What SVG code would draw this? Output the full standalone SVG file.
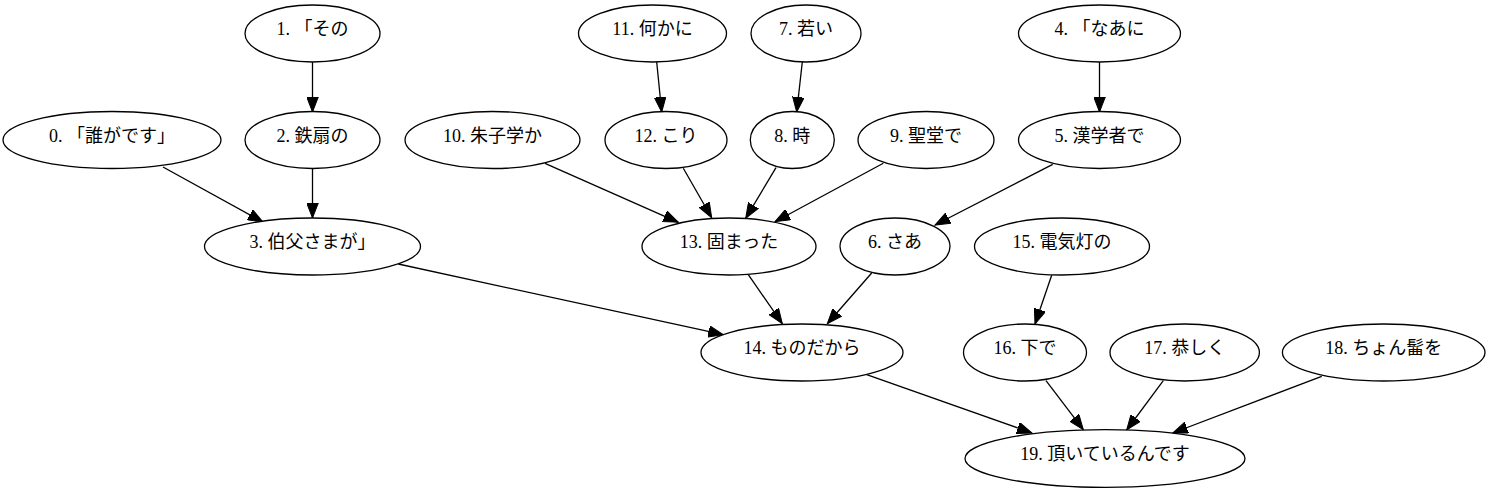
<svg xmlns="http://www.w3.org/2000/svg" width="1490" height="493" viewBox="0 0 1490 493">
<style>
.n ellipse{fill:#fff;stroke:#000;stroke-width:1.3}
.n text{font-family:"Liberation Serif","Noto Sans CJK JP",serif;font-size:18px;text-anchor:middle;fill:#000}
.e line{stroke:#000;stroke-width:1.3;marker-end:url(#ah)}
</style>
<defs>
<marker id="ah" markerUnits="userSpaceOnUse" markerWidth="16" markerHeight="12" refX="15" refY="6" orient="auto">
<path d="M0,0.2 L15,6 L0,11.8 Z" fill="#000" stroke="#000" stroke-width="1"/>
</marker>
</defs>
<rect width="1490" height="493" fill="#fff"/>
<g id="edges" class="e">
<line x1="312.5" y1="62" x2="312.5" y2="112"/>
<line x1="163" y1="167" x2="263" y2="222"/>
<line x1="312.5" y1="169" x2="312.5" y2="218"/>
<line x1="656.7" y1="62" x2="661.7" y2="112"/>
<line x1="802.3" y1="62" x2="796.7" y2="112"/>
<line x1="545" y1="163.3" x2="678.3" y2="222.3"/>
<line x1="683.3" y1="168.3" x2="711.7" y2="217.7"/>
<line x1="776" y1="167.7" x2="745.7" y2="218.3"/>
<line x1="883.3" y1="163.3" x2="775" y2="221.7"/>
<line x1="1099.5" y1="62" x2="1099.5" y2="112"/>
<line x1="1052.7" y1="164.3" x2="935" y2="225"/>
<line x1="398.3" y1="264" x2="723.3" y2="334.7"/>
<line x1="748.3" y1="274.7" x2="782.3" y2="323.7"/>
<line x1="871.7" y1="273" x2="827.3" y2="323.7"/>
<line x1="1051.7" y1="275.3" x2="1035" y2="324"/>
<line x1="866.7" y1="374.7" x2="1032" y2="433"/>
<line x1="1046" y1="380.7" x2="1083.3" y2="429.7"/>
<line x1="1163.3" y1="380.7" x2="1126.7" y2="430"/>
<line x1="1321.7" y1="376.3" x2="1172.7" y2="433"/>
</g>
<g id="node0" class="n"><ellipse cx="112" cy="140" rx="109" ry="28.5"/><text x="112" y="141.5">0. 「誰がです」</text></g>
<g id="node1" class="n"><ellipse cx="312.5" cy="33.5" rx="67.5" ry="28.5"/><text x="312.5" y="35">1. 「その</text></g>
<g id="node2" class="n"><ellipse cx="312.5" cy="140" rx="67.5" ry="28.5"/><text x="312.5" y="141.5">2. 鉄扇の</text></g>
<g id="node3" class="n"><ellipse cx="312.5" cy="246.5" rx="108" ry="28.5"/><text x="312.5" y="248">3. 伯父さまが」</text></g>
<g id="node4" class="n"><ellipse cx="1099.5" cy="33.5" rx="81" ry="28.5"/><text x="1099.5" y="35">4. 「なあに</text></g>
<g id="node5" class="n"><ellipse cx="1099.5" cy="140" rx="81" ry="28.5"/><text x="1099.5" y="141.5">5. 漢学者で</text></g>
<g id="node6" class="n"><ellipse cx="895" cy="246.5" rx="55" ry="28.5"/><text x="895" y="248">6. さあ</text></g>
<g id="node7" class="n"><ellipse cx="806" cy="33.5" rx="55" ry="28.5"/><text x="806" y="35">7. 若い</text></g>
<g id="node8" class="n"><ellipse cx="792.3" cy="140" rx="42" ry="28.5"/><text x="792.3" y="141.5">8. 時</text></g>
<g id="node9" class="n"><ellipse cx="926" cy="140" rx="68" ry="28.5"/><text x="926" y="141.5">9. 聖堂で</text></g>
<g id="node10" class="n"><ellipse cx="492.5" cy="140" rx="87.5" ry="28.5"/><text x="492.5" y="141.5">10. 朱子学か</text></g>
<g id="node11" class="n"><ellipse cx="652.5" cy="33.5" rx="74" ry="28.5"/><text x="652.5" y="35">11. 何かに</text></g>
<g id="node12" class="n"><ellipse cx="666" cy="140" rx="61" ry="28.5"/><text x="666" y="141.5">12. こり</text></g>
<g id="node13" class="n"><ellipse cx="729" cy="246.5" rx="87" ry="28.5"/><text x="729" y="248">13. 固まった</text></g>
<g id="node14" class="n"><ellipse cx="802" cy="352.5" rx="101" ry="28.5"/><text x="802" y="354">14. ものだから</text></g>
<g id="node15" class="n"><ellipse cx="1062" cy="246.5" rx="87.5" ry="28.5"/><text x="1062" y="248">15. 電気灯の</text></g>
<g id="node16" class="n"><ellipse cx="1025" cy="352.5" rx="61.5" ry="28.5"/><text x="1025" y="354">16. 下で</text></g>
<g id="node17" class="n"><ellipse cx="1184.7" cy="352.5" rx="74.7" ry="28.5"/><text x="1184.7" y="354">17. 恭しく</text></g>
<g id="node18" class="n"><ellipse cx="1383.7" cy="352.5" rx="101.3" ry="28.5"/><text x="1383.7" y="354">18. ちょん髷を</text></g>
<g id="node19" class="n"><ellipse cx="1105" cy="458.5" rx="140" ry="28.8"/><text x="1105" y="460">19. 頂いているんです</text></g>
</svg>
